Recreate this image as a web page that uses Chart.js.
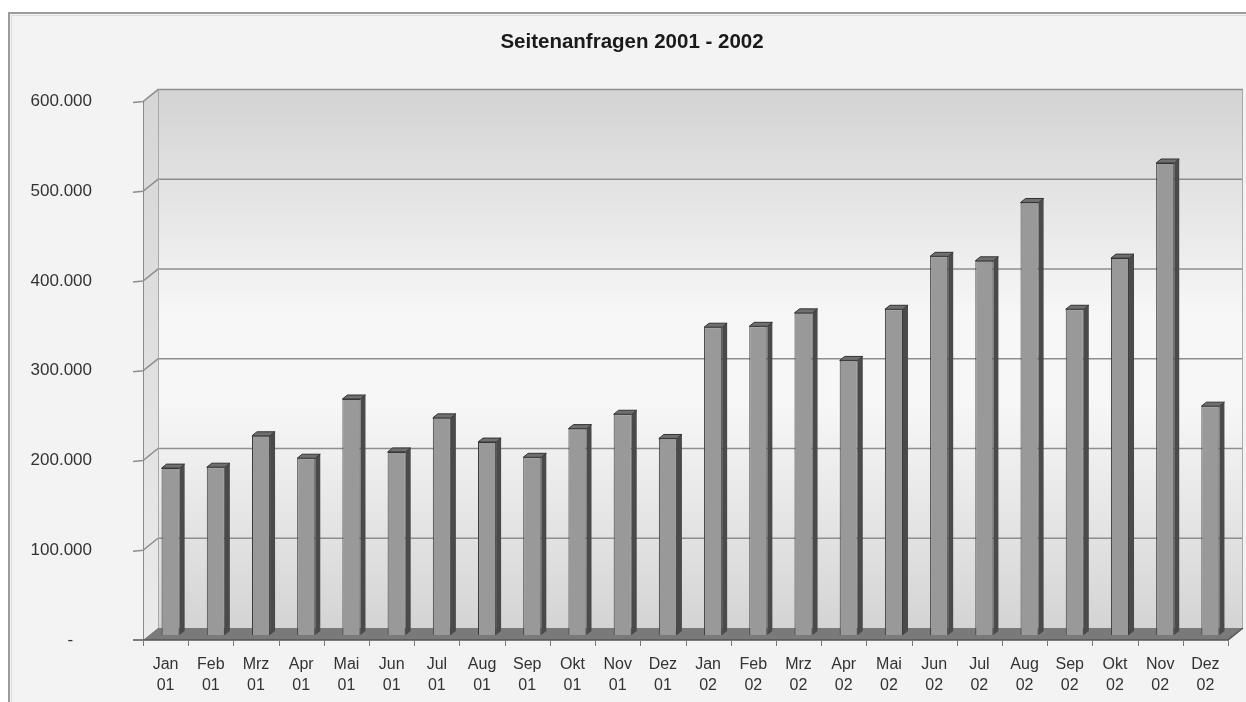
<!DOCTYPE html>
<html>
<head>
<meta charset="utf-8">
<script src="https://cdn.jsdelivr.net/npm/chart.js@4/dist/chart.umd.min.js"></script>
<style>
  html, body { margin: 0; padding: 0; background: #ffffff; }
  #wrap { width: 1246px; height: 702px; }
</style>
</head>
<body>
<div id="wrap"><canvas id="c" width="1246" height="702"></canvas></div>
<script>
// ---- data ----
const chartTitle = 'Seitenanfragen 2001 - 2002';
const categoryLabels = [
  ['Jan','01'],['Feb','01'],['Mrz','01'],['Apr','01'],['Mai','01'],['Jun','01'],
  ['Jul','01'],['Aug','01'],['Sep','01'],['Okt','01'],['Nov','01'],['Dez','01'],
  ['Jan','02'],['Feb','02'],['Mrz','02'],['Apr','02'],['Mai','02'],['Jun','02'],
  ['Jul','02'],['Aug','02'],['Sep','02'],['Okt','02'],['Nov','02'],['Dez','02']
];
const pageRequests = [
  186000, 187000, 222000, 197000, 263000, 204000,
  242000, 215000, 198000, 230000, 246000, 219000,
  343000, 344000, 359000, 306000, 363000, 422000,
  417000, 482000, 363000, 420000, 526000, 255000
];
const yTickValues = [0, 100000, 200000, 300000, 400000, 500000, 600000];
const yTickLabels = ['-    ', '100.000', '200.000', '300.000', '400.000', '500.000', '600.000'];

// ---- 3D look (styles only) ----
const BACK = { dx: 10, dy: -7 };
const FRONT = { dx: -5, dy: 5 };
const BAR_DEPTH = { dx: 5, dy: -4 };

const scenePlugin = {
  id: 'scene3d',
  beforeDraw(chart) {
    const ctx = chart.ctx;
    const xs = chart.scales.x, ys = chart.scales.y;
    const L = xs.left, R = xs.right;
    const y0 = ys.getPixelForValue(0);
    const yTop = ys.getPixelForValue(ys.max);
    ctx.save();
    // page + frame
    ctx.fillStyle = '#ffffff';
    ctx.fillRect(0, 0, chart.width, chart.height);
    ctx.fillStyle = '#f3f3f3';
    ctx.fillRect(9, 12, chart.width - 9, chart.height - 12);
    ctx.strokeStyle = '#9c9c9c';
    ctx.lineWidth = 2;
    ctx.beginPath();
    ctx.moveTo(9, chart.height);
    ctx.lineTo(9, 13);
    ctx.lineTo(chart.width, 13);
    ctx.stroke();
    ctx.strokeStyle = '#dcdcdc';
    ctx.lineWidth = 1;
    ctx.beginPath();
    ctx.moveTo(11.5, chart.height);
    ctx.lineTo(11.5, 15.5);
    ctx.lineTo(chart.width, 15.5);
    ctx.stroke();

    // back wall
    const bx0 = L + BACK.dx, bx1 = R + BACK.dx;
    const by0 = yTop + BACK.dy, by1 = y0 + BACK.dy;
    const g = ctx.createLinearGradient(0, by0, 0, by1);
    g.addColorStop(0, '#d3d3d3');
    g.addColorStop(0.42, '#f7f7f7');
    g.addColorStop(0.58, '#f7f7f7');
    g.addColorStop(1, '#d4d4d4');
    ctx.fillStyle = g;
    ctx.fillRect(bx0, by0, bx1 - bx0, by1 - by0);

    // side wall
    const fx = L + FRONT.dx;
    const sg = ctx.createLinearGradient(0, yTop, 0, y0);
    sg.addColorStop(0, '#d6d6d6');
    sg.addColorStop(1, '#eaeaea');
    ctx.fillStyle = sg;
    ctx.beginPath();
    ctx.moveTo(fx, yTop + FRONT.dy);
    ctx.lineTo(bx0, by0);
    ctx.lineTo(bx0, by1);
    ctx.lineTo(fx, y0 + FRONT.dy);
    ctx.closePath();
    ctx.fill();

    // floor
    ctx.fillStyle = '#7a7a7a';
    ctx.beginPath();
    ctx.moveTo(fx, y0 + FRONT.dy);
    ctx.lineTo(bx0, by1);
    ctx.lineTo(bx1, by1);
    ctx.lineTo(R + FRONT.dx, y0 + FRONT.dy);
    ctx.closePath();
    ctx.fill();

    // grid lines (tick -> side wall -> back wall)
    ctx.strokeStyle = '#8e8e8e';
    ctx.lineWidth = 1.5;
    ys.ticks.forEach(t => {
      if (t.value <= 0) return;
      const py = ys.getPixelForValue(t.value);
      ctx.beginPath();
      ctx.moveTo(fx - 10, py + FRONT.dy + 1);
      ctx.lineTo(fx, py + FRONT.dy);
      ctx.lineTo(bx0, py + BACK.dy);
      ctx.lineTo(bx1, py + BACK.dy);
      ctx.stroke();
    });

    // wall edges / axis
    ctx.strokeStyle = '#a8a8a8';
    ctx.lineWidth = 1;
    ctx.beginPath();
    ctx.moveTo(bx0 + 0.5, by0); ctx.lineTo(bx0 + 0.5, by1);
    ctx.moveTo(bx1 - 0.5, by0); ctx.lineTo(bx1 - 0.5, by1);
    ctx.stroke();
    ctx.strokeStyle = '#8a8a8a';
    ctx.beginPath();
    ctx.moveTo(fx + 0.5, yTop + FRONT.dy); ctx.lineTo(fx + 0.5, y0 + FRONT.dy);
    ctx.stroke();

    // floor front edge with category ticks
    ctx.strokeStyle = '#555555';
    ctx.lineWidth = 1.5;
    ctx.beginPath();
    ctx.moveTo(fx - 10, y0 + FRONT.dy);
    ctx.lineTo(R + FRONT.dx, y0 + FRONT.dy);
    ctx.lineTo(bx1, by1);
    ctx.stroke();
    const n = chart.data.labels.length;
    const cw = (R - L) / n;
    ctx.strokeStyle = '#777777';
    ctx.lineWidth = 1;
    for (let i = 0; i <= n; i++) {
      const tx = Math.round(L + i * cw + FRONT.dx) + 0.5;
      ctx.beginPath();
      ctx.moveTo(tx, y0 + FRONT.dy);
      ctx.lineTo(tx, y0 + FRONT.dy + 6);
      ctx.stroke();
    }
    ctx.restore();
  },
  afterDatasetsDraw(chart) {
    const ctx = chart.ctx;
    const meta = chart.getDatasetMeta(0);
    ctx.save();
    meta.data.forEach(bar => {
      const p = bar.getProps(['x', 'y', 'base', 'width'], true);
      const l = p.x - p.width / 2, r = p.x + p.width / 2;
      const dx = BAR_DEPTH.dx, dy = BAR_DEPTH.dy;
      // right side face
      ctx.fillStyle = '#4a4a4a';
      ctx.beginPath();
      ctx.moveTo(r, p.y);
      ctx.lineTo(r + dx, p.y + dy);
      ctx.lineTo(r + dx, p.base + dy);
      ctx.lineTo(r, p.base);
      ctx.closePath();
      ctx.fill();
      // top face
      ctx.fillStyle = '#6f6f6f';
      ctx.beginPath();
      ctx.moveTo(l, p.y);
      ctx.lineTo(l + dx, p.y + dy);
      ctx.lineTo(r + dx, p.y + dy);
      ctx.lineTo(r, p.y);
      ctx.closePath();
      ctx.fill();
      ctx.strokeStyle = '#333333';
      ctx.lineWidth = 1;
      ctx.stroke();
    });
    ctx.restore();
  }
};

new Chart(document.getElementById('c'), {
  type: 'bar',
  data: {
    labels: categoryLabels,
    datasets: [{
      data: pageRequests,
      backgroundColor: '#999999',
      borderColor: '#3a3a3a',
      borderWidth: 1,
      barPercentage: 0.4,
      categoryPercentage: 1.0
    }]
  },
  options: {
    responsive: false,
    animation: false,
    layout: { padding: { left: 18, right: 0, top: 0, bottom: 0 } },
    plugins: {
      legend: { display: false },
      tooltip: { enabled: false },
      title: {
        display: true,
        text: chartTitle,
        color: '#1a1a1a',
        font: { family: 'Liberation Sans, Arial, sans-serif', size: 20.5, weight: 'bold' },
        padding: { top: 30, bottom: 42 }
      }
    },
    scales: {
      x: {
        grid: { display: false },
        border: { display: false },
        ticks: {
          color: '#333333',
          font: { family: 'Liberation Sans, Arial, sans-serif', size: 16, lineHeight: 1.3 },
          padding: 11,
          labelOffset: -5,
          maxRotation: 0,
          autoSkip: false
        },
        afterFit(scale) { scale.height = 67; }
      },
      y: {
        min: 0,
        max: 600000,
        grid: { display: false },
        border: { display: false },
        afterBuildTicks(scale) { scale.ticks = yTickValues.map(v => ({ value: v })); },
        ticks: {
          color: '#333333',
          font: { family: 'Liberation Sans, Arial, sans-serif', size: 17 },
          padding: 48,
          labelOffset: 5,
          callback: (v) => yTickLabels[yTickValues.indexOf(v)]
        },
        afterFit(scale) { scale.width = 130; }
      },
      yRight: {
        position: 'right',
        min: 0,
        max: 600000,
        grid: { display: false },
        border: { display: false },
        ticks: { display: false },
        afterFit(scale) { scale.width = 13; }
      }
    }
  },
  plugins: [scenePlugin]
});
</script>
</body>
</html>
